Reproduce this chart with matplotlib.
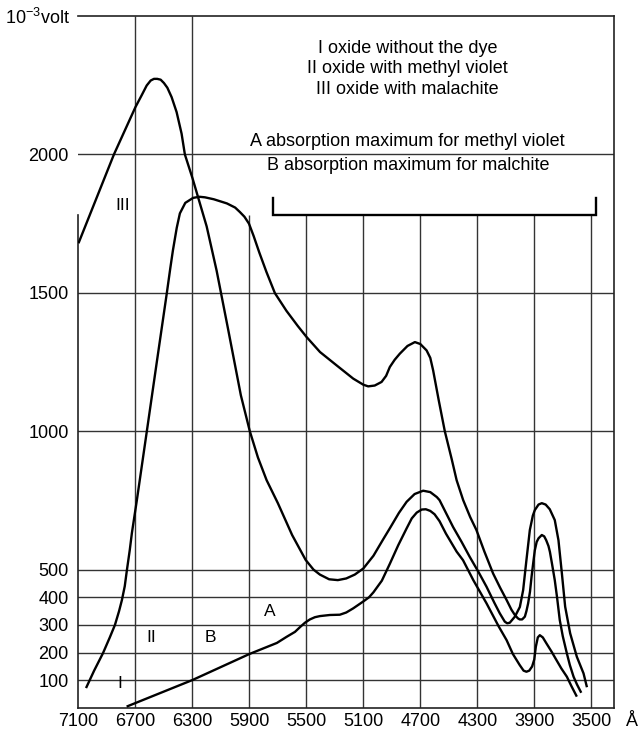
import matplotlib
matplotlib.use('Agg')
import matplotlib.pyplot as plt

plt.rcParams['font.family'] = ['Liberation Sans', 'DejaVu Sans']
plt.rcParams['mathtext.fontset'] = 'custom'
plt.rcParams['mathtext.rm'] = 'Liberation Sans'
plt.rcParams['mathtext.it'] = 'Liberation Sans:italic'

# ---- data (wavelength in Å, signal in 10^-3 volt) ----
wl_I = [6762, 6300, 5900, 5707, 5639, 5580, 5545, 5510, 5475, 5440, 5405, 5335, 5265,
        5220, 5171, 5100, 5060, 5029, 4970, 4913, 4855, 4796, 4760, 4725, 4690, 4661,
        4630, 4600, 4565, 4520, 4445, 4400, 4328, 4235, 4150, 4094, 4050, 4002, 3975,
        3955, 3935, 3915, 3900, 3889, 3875, 3861, 3840, 3814, 3780, 3744, 3710, 3671,
        3640, 3601]
v_I = [5, 101, 195, 235, 257, 275, 292, 308, 320, 328, 332, 336, 337,
       345, 360, 385, 400, 418, 460, 522, 588, 649, 685, 706, 717, 718,
       712, 700, 675, 630, 565, 534, 462, 378, 295, 245, 195, 155, 135,
       131, 135, 150, 175, 221, 255, 263, 255, 233, 205, 173, 143, 113,
       80, 41]

wl_II = [7047, 6990, 6928, 6880, 6844, 6815, 6795, 6775, 6760, 6740, 6725, 6690, 6620,
         6550, 6480, 6455, 6437, 6410, 6388, 6350, 6295, 6250, 6212, 6150, 6058, 6000,
         5967, 5935, 5903, 5870, 5830, 5780, 5721, 5640, 5560, 5498, 5404, 5288, 5171, 5100,
         5066, 5020, 4972, 4940, 4914, 4880, 4844, 4790, 4738, 4700, 4656, 4630, 4610,
         4570, 4528, 4480, 4445, 4399, 4350, 4306, 4250, 4189, 4140, 4094, 4060, 4036,
         4015, 4002, 3985, 3966, 3955, 3943, 3930, 3919, 3907, 3896, 3883, 3870, 3847,
         3830, 3816, 3800, 3790, 3775, 3756, 3740, 3721, 3700, 3671, 3650, 3624, 3600,
         3570]
v_II = [72, 135, 198, 255, 300, 350, 390, 440, 498, 570, 632, 751, 1000,
        1250, 1498, 1590, 1653, 1735, 1787, 1825, 1843, 1847, 1845, 1838, 1823, 1808,
        1792, 1775, 1750, 1705, 1645, 1575, 1499, 1435, 1380, 1340, 1286, 1238, 1190, 1168,
        1162, 1165, 1178, 1200, 1232, 1258, 1280, 1308, 1322, 1315, 1292, 1265, 1220,
        1110, 1000, 900, 823, 751, 690, 643, 565, 486, 435, 390, 355, 336,
        324, 320, 320, 330, 350, 378, 420, 474, 525, 570, 600, 613, 625,
        620, 606, 585, 564, 520, 462, 400, 318, 260, 197, 155, 113, 85,
        55]

wl_III = [7100, 6851, 6700, 6657, 6621, 6593, 6570, 6547, 6523, 6500, 6476, 6446, 6411,
          6376, 6353, 6300, 6200, 6130, 6050, 5960, 5897, 5840, 5779, 5700, 5600, 5505,
          5450, 5405, 5340, 5279, 5220, 5160, 5100, 5029, 4960, 4913, 4850, 4796, 4740,
          4680, 4630, 4584, 4565, 4520, 4470, 4410, 4353, 4290, 4235, 4180, 4142, 4107,
          4090, 4072, 4036, 4001, 3978, 3955, 3931, 3910, 3896, 3870, 3847, 3820, 3791,
          3756, 3730, 3706, 3683, 3648, 3601, 3554, 3530]
v_III = [1679, 2000, 2171, 2213, 2249, 2267, 2273, 2273, 2270, 2258, 2241, 2207, 2153,
         2075, 2000, 1915, 1740, 1580, 1370, 1130, 1000, 905, 823, 740, 625, 535,
         500, 482, 465, 462, 468, 482, 504, 550, 610, 650, 705, 745, 773,
         785, 780, 762, 751, 705, 654, 600, 546, 490, 438, 380, 342, 312,
         306, 308, 330, 365, 426, 534, 643, 695, 715, 735, 740, 735, 718,
         679, 606, 486, 366, 270, 185, 125, 75]

x_ticks = [7100, 6700, 6300, 5900, 5500, 5100, 4700, 4300, 3900, 3500]
y_ticks = [100, 200, 300, 400, 500, 1000, 1500, 2000]
full_vlines = [6700, 6300]
short_vlines = [5900, 5500, 5100, 4700, 4300, 3900, 3500]
bracket_x = [5735, 3468]
bracket_y = 1780
bracket_top = 1841

legend_lines = ["I oxide without the dye", "II oxide with methyl violet",
                "III oxide with malachite"]
legend_y = [2383, 2310, 2235]
note_lines = ["A absorption maximum for methyl violet",
              "B absorption maximum for malchite"]
note_y = [2047, 1960]
text_x = 4788

curve_labels = ["III", "I", "II", "B", "A"]
curve_label_x = [6788, 6809, 6591, 6177, 5756]
curve_label_y = [1816, 90, 253, 253, 350]

# ---- figure ----
fig = plt.figure(figsize=(6.39, 7.32), dpi=100)
ax = fig.add_axes([0.1228, 0.0328, 0.8381, 0.9453])
ax.set_xlim(7100, 3340)
ax.set_ylim(0, 2500)

grid_kw = dict(color='#333333', linewidth=1.0, zorder=1)
for y in y_ticks:
    ax.axhline(y, **grid_kw)
ax.vlines(full_vlines, 0, 2500, **grid_kw)
ax.vlines(short_vlines, 0, bracket_y, **grid_kw)

# bracket
ax.plot([bracket_x[0], bracket_x[0], bracket_x[1], bracket_x[1]],
        [bracket_top, bracket_y, bracket_y, bracket_top],
        color='black', linewidth=1.7, solid_joinstyle='miter', zorder=3)

curve_kw = dict(color='black', linewidth=1.7, solid_joinstyle='round',
                solid_capstyle='butt', zorder=4)
ax.plot(wl_I, v_I, **curve_kw)
ax.plot(wl_II, v_II, **curve_kw)
ax.plot(wl_III, v_III, **curve_kw)

for s, y in zip(legend_lines, legend_y):
    ax.text(text_x, y, s, ha='center', va='center', fontsize=13)
for s, y in zip(note_lines, note_y):
    ax.text(text_x, y, s, ha='center', va='center', fontsize=13)
for s, x, y in zip(curve_labels, curve_label_x, curve_label_y):
    ax.text(x, y, s, ha='center', va='center', fontsize=12.5)

ax.set_xticks(x_ticks)
ax.set_xticklabels([str(v) for v in x_ticks])
ax.set_yticks(y_ticks)
ax.set_yticklabels([str(v) for v in y_ticks])
ax.tick_params(axis='both', length=0, labelsize=13)
ax.tick_params(axis='y', pad=7)
ax.tick_params(axis='x', pad=3.5)

for side in ['top', 'right', 'bottom', 'left']:
    ax.spines[side].set_color('#222222')
    ax.spines[side].set_linewidth(1.2)
ax.spines['left'].set_bounds(0, bracket_y)

fig.text(70 / 639, 1 - 18 / 732, r'$10^{-3}$volt', ha='right', va='center', fontsize=13)
fig.text(632 / 639, 1 - 722 / 732, 'Å', ha='center', va='center', fontsize=13)

fig.savefig('out.png', dpi=100)
